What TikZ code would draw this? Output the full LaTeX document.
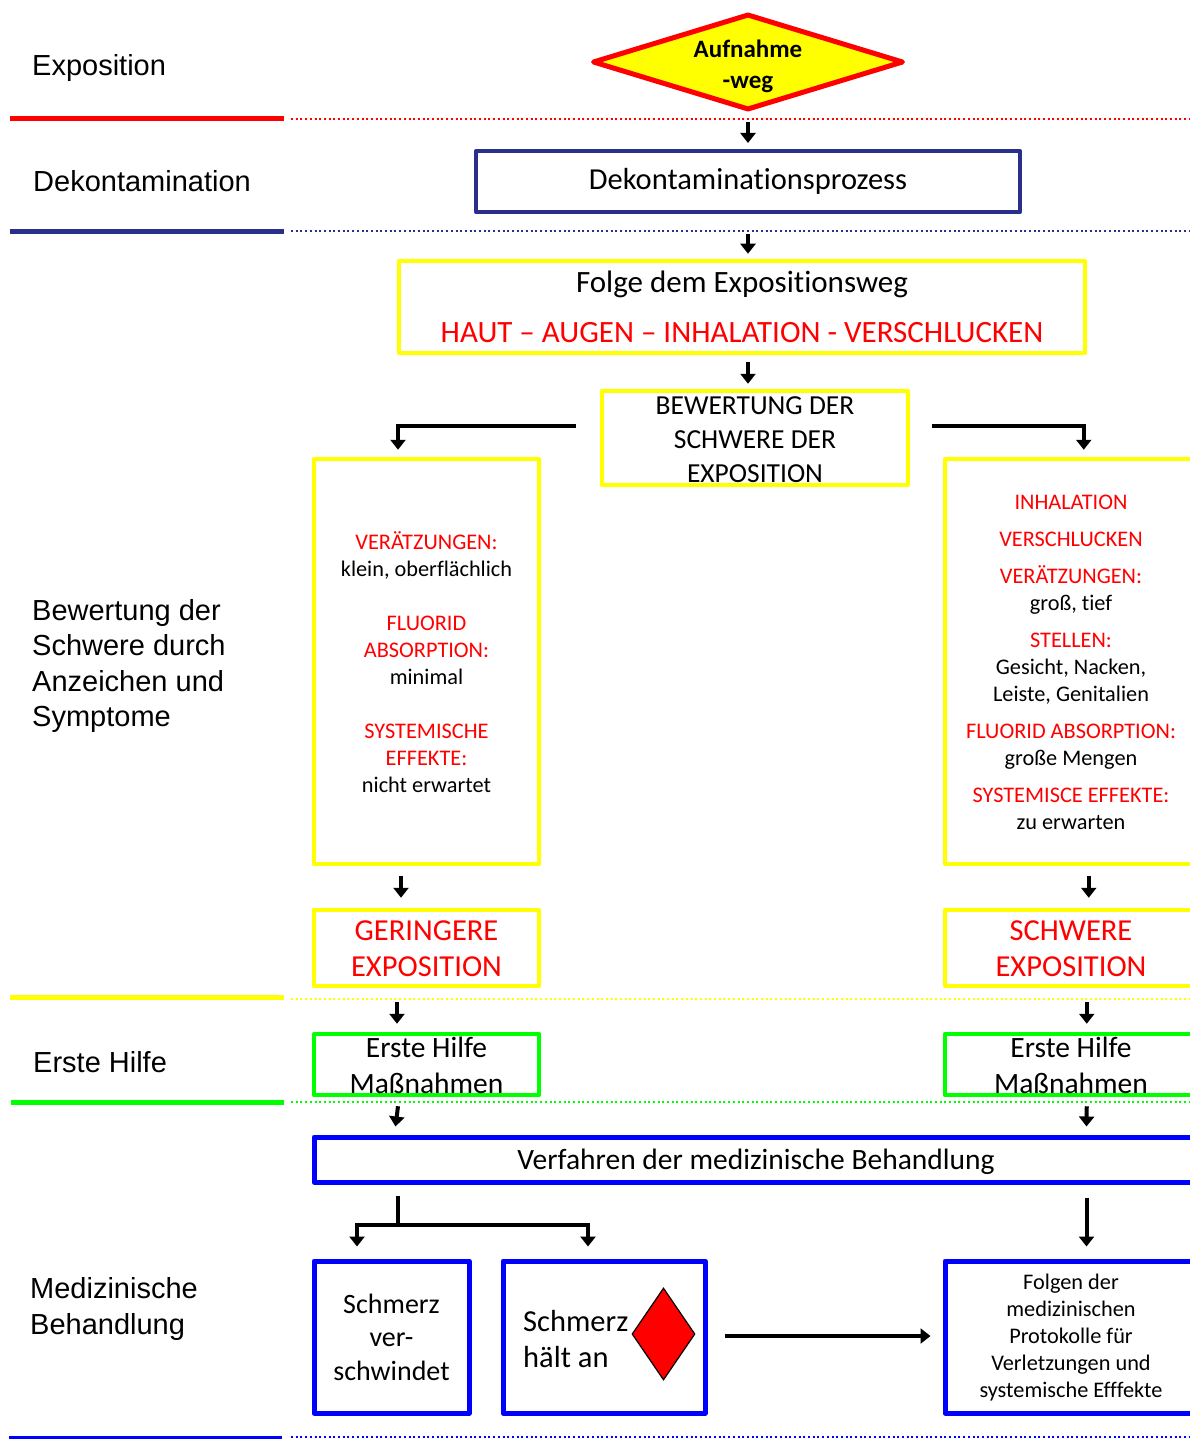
\documentclass[tikz,border=0pt]{standalone}
\usepackage{fontspec}
\setmainfont{Carlito}[Ligatures=NoCommon]
\newfontfamily\arialf{Liberation Sans}
\usetikzlibrary{arrows.meta,shapes.geometric,calc}
\definecolor{navyb}{RGB}{43,47,140}
\definecolor{pyel}{RGB}{255,255,0}
\definecolor{pgrn}{RGB}{0,255,0}
\definecolor{pblu}{RGB}{0,0,255}
\definecolor{pred}{RGB}{255,0,0}
\begin{document}
\begin{tikzpicture}[x=1pt,y=-1pt,
 lbl/.style={font=\arialf\fontsize{29}{35.5}\selectfont, anchor=west, align=left, inner sep=0pt},
 arr/.style={line width=4pt, -{Triangle[width=15pt,length=10pt]}},
 bx/.style={draw, rectangle, inner sep=0pt, line width=4.5pt, line join=round},
 ybx/.style={bx, draw=pyel},
 gbx/.style={bx, draw=pgrn},
 bbx/.style={bx, draw=pblu, line width=5pt},
 small/.style={font=\fontsize{22.3}{27}\selectfont, align=center, inner sep=0pt},
 big/.style={font=\fontsize{30.5}{36}\selectfont, align=center, inner sep=0pt},
 sep/.style={line width=5pt},
 sepdot/.style={line width=2pt, dash pattern=on 2pt off 2.7pt},
]
\useasboundingbox (0,0) rectangle (1190,1439);

% separators
\draw[sep, pred] (10,119) -- (284,119);
\draw[sepdot, pred] (291,119) -- (1190,119);
\draw[sep, navyb] (10,232) -- (284,232);
\draw[sepdot, navyb] (291,231) -- (1190,231);
\draw[sep, pyel] (10,997) -- (284,997);
\draw[sepdot, pyel] (291,999) -- (1190,999);
\draw[sep, pgrn] (11,1102) -- (284,1102);
\draw[sepdot, pgrn] (291,1102) -- (1190,1102);
\draw[line width=3pt, pblu] (9,1437) -- (282,1437);
\draw[sepdot, pblu, line width=1.5pt] (291,1437) -- (1190,1437);

% left labels
\node[lbl] (lexp) at (32,68) {Exposition};
\node[lbl] (ldek) at (33,181) {Dekontamination};
\node[lbl] (lbew) at (32,666) {Bewertung der\\Schwere durch\\Anzeichen und\\Symptome};
\node[lbl] (leh) at (33,1062) {Erste Hilfe};
\node[lbl] (lmed) at (30,1309) {Medizinische\\Behandlung};

% diamond
\node[diamond, aspect=3.24, draw=pred, fill=pyel, line width=5pt, line join=round, minimum width=311pt, minimum height=96pt, inner sep=0pt] (diam) at (748,62) {};
\node[align=center, inner sep=0pt, font=\bfseries\fontsize{25}{31}\selectfont] (diamt) at (748,66) {Aufnahme\\-weg};

% boxes
\node[bx, draw=navyb, line width=4pt, minimum width=544pt, minimum height=61pt, font=\fontsize{30.5}{36}\selectfont] (dek) at (748,181.5) {\raisebox{-3pt}{Dekontaminationsprozess}};
\node[ybx, minimum width=686pt, minimum height=92pt, align=center, font=\fontsize{31}{50}\selectfont] (folge) at (742,307) {Folge dem Expositionsweg\\\textcolor{pred}{HAUT – AUGEN – INHALATION - VERSCHLUCKEN}};
\node[ybx, minimum width=306pt, minimum height=94pt] (bew) at (755,438) {};
\node[align=center, inner sep=0pt, font=\fontsize{27.5}{34}\selectfont] (bewt) at (755,440) {BEWERTUNG DER\\SCHWERE DER\\EXPOSITION};

\node[ybx, minimum width=225pt, minimum height=405pt] (lbox) at (426.5,661.5) {};
\node[small] (ltxt) at (426.5,662) {\textcolor{pred}{VERÄTZUNGEN:}\\ klein, oberflächlich\\[27pt] \textcolor{pred}{FLUORID}\\ \textcolor{pred}{ABSORPTION:}\\ minimal\\[27pt] \textcolor{pred}{SYSTEMISCHE}\\ \textcolor{pred}{EFFEKTE:}\\ nicht erwartet};

\node[ybx, minimum width=265pt, minimum height=405pt] (rbox) at (1077.5,661.5) {};
\node[small] (rtxt) at (1071,662.5) {\textcolor{pred}{INHALATION}\\[10pt] \textcolor{pred}{VERSCHLUCKEN}\\[10pt] \textcolor{pred}{VERÄTZUNGEN:}\\ groß, tief\\[10pt] \textcolor{pred}{STELLEN:}\\ Gesicht, Nacken,\\ Leiste, Genitalien\\[10pt] \textcolor{pred}{FLUORID ABSORPTION:}\\ große Mengen\\[10pt] \textcolor{pred}{SYSTEMISCE EFFEKTE:}\\ zu erwarten};

\node[ybx, minimum width=225pt, minimum height=76pt] (lger) at (426.5,948) {};
\node[big, text=pred] (lgert) at (426.5,949) {GERINGERE\\EXPOSITION};
\node[ybx, minimum width=265pt, minimum height=76pt] (rger) at (1077.5,948) {};
\node[big, text=pred] (rgert) at (1071,949) {SCHWERE\\EXPOSITION};

\node[gbx, minimum width=225pt, minimum height=61pt] (lehb) at (426.5,1064.5) {};
\node[big, font=\fontsize{29.5}{36}\selectfont] (leht) at (426.5,1065) {Erste Hilfe\\Maßnahmen};
\node[gbx, minimum width=265pt, minimum height=61pt] (rehb) at (1077.5,1064.5) {};
\node[big, font=\fontsize{29.5}{36}\selectfont] (reht) at (1071,1065) {Erste Hilfe\\Maßnahmen};

\node[bbx, minimum width=896pt, minimum height=45pt] (verf) at (762,1159.5) {};
\node[big, font=\fontsize{29.5}{34}\selectfont] (verft) at (756,1162) {Verfahren der medizinische Behandlung};

\node[bbx, minimum width=155pt, minimum height=152pt, align=center, font=\fontsize{28}{33.5}\selectfont] (sv) at (391.5,1337) {Schmerz\\ver-\\schwindet};
\node[bbx, minimum width=202pt, minimum height=152pt] (sh) at (604,1337) {};
\node[anchor=west, align=left, inner sep=0pt, font=\fontsize{30.5}{36}\selectfont] (sht) at (523,1339) {Schmerz\\hält an};
\node[diamond, aspect=0.685, draw=black, fill=pred, line width=1.2pt, minimum width=63pt, minimum height=92pt, inner sep=0pt] (rd) at (663.5,1334) {};

\node[bbx, minimum width=265pt, minimum height=152pt] (folgen) at (1077.5,1337) {};
\node[small] (folgent) at (1071,1338) {Folgen der\\ medizinischen\\ Protokolle für\\ Verletzungen und\\ systemische Efffekte};

% arrows
\draw[arr] ($(diam.south)+(0,10)$) -- ($(dek.north)+(0,-6)$);
\draw[arr] ($(dek.south)+(0,20)$) -- ($(folge.north -| dek.south)+(0,-5)$);
\draw[arr] ($(folge.south -| dek.south)+(0,7)$) -- ($(bew.north -| dek.south)+(0,-5)$);
\draw[arr] ($(bew.west)+(-24,-12)$) -| ($(lbox.north)+(-28.5,-7)$);
\draw[arr] ($(bew.east)+(22,-12)$) -| ($(rbox.north west)+(141,-7)$);
\draw[arr] ($(lbox.south)+(-25.5,10)$) -- ($(lger.north)+(-25.5,-10)$);
\draw[arr] ($(rbox.south west)+(146,10)$) -- ($(rger.north west)+(146,-10)$);
\draw[arr] ($(lger.south)+(-29.5,14)$) -- ($(lehb.north)+(-29.5,-8)$);
\draw[arr] ($(rger.south west)+(144,14)$) -- ($(rehb.north west)+(144,-8)$);
\draw[arr] ($(lehb.south)+(-28.5,9)$) -- ($(verf.north west)+(84,-8)$);
\draw[arr] ($(rehb.south west)+(144,9)$) -- ($(verf.north west)+(775,-8)$);
\coordinate (fk) at ($(verf.south west)+(86,40)$);
\draw[line width=4pt] ($(verf.south west)+(86,11)$) -- (fk);
\draw[arr] (fk) -| ($(sv.north)+(-34.5,-12)$);
\draw[arr] (fk) -| ($(sh.north)+(-16,-12)$);
\draw[arr] ($(verf.south west)+(775,13)$) -- ($(folgen.north west)+(144,-12)$);
\draw[arr] ($(sh.east)+(17,-1)$) -- ($(folgen.west)+(-12,-1)$);
\end{tikzpicture}
\end{document}
